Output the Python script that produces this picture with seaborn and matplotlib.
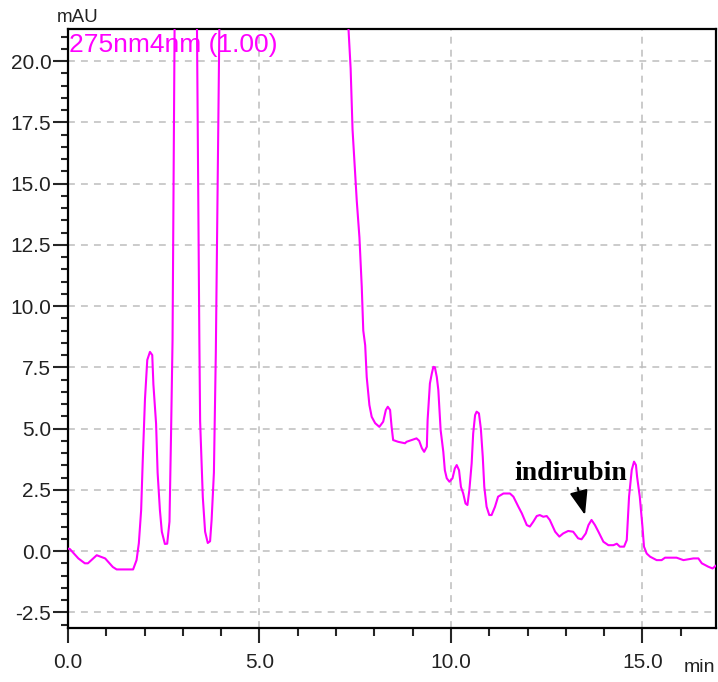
import matplotlib
matplotlib.use("Agg")
import matplotlib.pyplot as plt
from matplotlib.ticker import MultipleLocator, FormatStrFormatter
import seaborn as sns
import pandas as pd

# Chromatogram trace: retention time (min) and absorbance (mAU) at 275 nm.
# Peak tops that run past the top of the plot are estimates; they are clipped by the axes.
time_min = [
    0.00, 0.05, 0.27, 0.44, 0.52, 0.75, 0.97, 1.17, 1.27, 1.70,
    1.79, 1.85, 1.91, 1.95, 2.01, 2.07, 2.14, 2.20, 2.23, 2.30,
    2.34, 2.40, 2.45, 2.53, 2.59, 2.65, 2.69, 2.73, 2.79, 3.05,
    3.36, 3.43, 3.45, 3.52, 3.58, 3.65, 3.71, 3.75, 3.81, 3.86,
    3.96, 4.50, 5.50, 6.60, 7.30, 7.38, 7.43, 7.49, 7.54, 7.61,
    7.67, 7.71, 7.76, 7.80, 7.87, 7.93, 8.02, 8.13, 8.23, 8.30,
    8.35, 8.41, 8.45, 8.49, 8.62, 8.80, 8.84, 9.10, 9.17, 9.24,
    9.30, 9.37, 9.39, 9.45, 9.50, 9.54, 9.58, 9.63, 9.67, 9.73,
    9.80, 9.84, 9.89, 9.96, 10.04, 10.10, 10.15, 10.21, 10.26, 10.32,
    10.38, 10.43, 10.48, 10.54, 10.58, 10.63, 10.67, 10.73, 10.78, 10.83,
    10.87, 10.93, 11.00, 11.06, 11.15, 11.23, 11.37, 11.54, 11.63, 11.76,
    11.85, 11.98, 12.06, 12.15, 12.24, 12.32, 12.41, 12.50, 12.58, 12.72,
    12.83, 12.93, 13.06, 13.19, 13.32, 13.41, 13.52, 13.59, 13.67, 13.76,
    13.85, 13.98, 14.11, 14.24, 14.33, 14.41, 14.52, 14.59, 14.65, 14.72,
    14.78, 14.83, 14.86, 14.93, 15.00, 15.04, 15.11, 15.20, 15.37, 15.50,
    15.59, 15.89, 16.07, 16.33, 16.46, 16.55, 16.72, 16.83, 16.94,
]
absorbance_mau = [
    0.10, 0.08, -0.30, -0.50, -0.50, -0.17, -0.30, -0.65, -0.75, -0.75,
    -0.37, 0.32, 1.67, 3.60, 6.20, 7.80, 8.13, 8.00, 6.80, 5.20,
    3.20, 1.67, 0.79, 0.29, 0.30, 1.20, 4.70, 8.60, 23.0, 45.0,
    23.0, 8.60, 5.30, 2.20, 0.79, 0.33, 0.40, 1.27, 3.20, 8.10,
    22.5, 90.0, 110.0, 70.0, 22.0, 19.70, 17.20, 15.60, 14.30, 12.80,
    10.80, 9.00, 8.40, 7.10, 5.96, 5.48, 5.22, 5.07, 5.28, 5.76,
    5.89, 5.76, 5.07, 4.53, 4.46, 4.40, 4.46, 4.60, 4.50, 4.20,
    4.05, 4.26, 5.35, 6.84, 7.25, 7.52, 7.50, 7.10, 6.57, 4.94,
    4.05, 3.30, 2.97, 2.83, 2.97, 3.37, 3.51, 3.30, 2.62, 2.35,
    1.94, 1.88, 2.49, 3.58, 4.80, 5.55, 5.69, 5.62, 5.00, 3.85,
    2.62, 1.81, 1.47, 1.47, 1.81, 2.22, 2.35, 2.35, 2.22, 1.81,
    1.54, 1.06, 1.00, 1.20, 1.43, 1.47, 1.40, 1.43, 1.27, 0.79,
    0.59, 0.72, 0.82, 0.79, 0.52, 0.48, 0.72, 1.06, 1.27, 1.06,
    0.79, 0.38, 0.24, 0.24, 0.30, 0.18, 0.18, 0.45, 2.22, 3.31,
    3.65, 3.51, 3.03, 2.22, 0.99, 0.18, -0.10, -0.23, -0.37, -0.37,
    -0.27, -0.27, -0.37, -0.30, -0.30, -0.50, -0.64, -0.71, -0.57,
]

channel_label = "275nm4nm (1.00)"
peak_name = "indirubin"
# arrow from below the label down to the indirubin peak
arrow_tail = (13.31, 2.58)
arrow_tip = (13.50, 1.47)
label_pos = (13.12, 2.90)

x_range = (0.0, 16.92)
y_range = (-3.14, 21.31)

sns.set_style("white")
plt.rcParams["font.family"] = ["Liberation Sans", "DejaVu Sans"]
plt.rcParams["axes.unicode_minus"] = False

fig = plt.figure(figsize=(7.18, 6.82), dpi=100)
ax = fig.add_axes([0.0947, 0.0792, 0.9025, 0.8783])

trace = pd.DataFrame({"min": time_min, "mAU": absorbance_mau})
sns.lineplot(data=trace, x="min", y="mAU", ax=ax, color="#ff00ff",
             linewidth=1.5, sort=False, estimator=None, zorder=3)

ax.set_xlim(*x_range)
ax.set_ylim(*y_range)
ax.set_xlabel("")
ax.set_ylabel("")

ax.xaxis.set_major_locator(MultipleLocator(5.0))
ax.xaxis.set_minor_locator(MultipleLocator(1.0))
ax.yaxis.set_major_locator(MultipleLocator(2.5))
ax.yaxis.set_minor_locator(MultipleLocator(0.5))
ax.xaxis.set_major_formatter(FormatStrFormatter("%.1f"))
ax.yaxis.set_major_formatter(FormatStrFormatter("%.1f"))

ax.set_axisbelow(True)
ax.grid(True, which="major", color="#bdbdbd", linestyle=(0, (4.5, 4)),
        linewidth=1.1)

for side in ["left", "right", "top", "bottom"]:
    ax.spines[side].set_visible(True)
    ax.spines[side].set_color("black")
    ax.spines[side].set_linewidth(1.6)

ax.tick_params(axis="y", which="major", direction="out", length=11, width=1.5,
               pad=1, labelsize=15, labelcolor="#222222", left=True)
ax.tick_params(axis="y", which="minor", direction="out", length=5, width=1.5,
               left=True)
ax.tick_params(axis="x", which="major", direction="out", length=11, width=1.5,
               pad=7, labelsize=15, labelcolor="#222222", bottom=True)
ax.tick_params(axis="x", which="minor", direction="out", length=6, width=1.5,
               bottom=True)

ax.text(0.002, 0.993, channel_label, transform=ax.transAxes, ha="left",
        va="top", fontsize=19, color="#ff00ff", zorder=4)

ax.text(label_pos[0], label_pos[1], peak_name, ha="center", va="baseline",
        fontsize=20, fontweight="bold", color="black",
        family=["Liberation Serif", "DejaVu Serif"], zorder=5)
ax.annotate("", xy=arrow_tip, xytext=arrow_tail,
            arrowprops=dict(arrowstyle="-|>,head_length=0.75,head_width=0.28",
                            mutation_scale=20, color="black", lw=1.5,
                            shrinkA=0, shrinkB=0), zorder=5)

fig.text(78 / 718, 1 - 18 / 682, "mAU", ha="center", va="center",
         fontsize=13.5, color="#222222")
fig.text(699 / 718, 1 - 672 / 682, "min", ha="center", va="baseline",
         fontsize=14, color="#222222")

fig.savefig("out.png", dpi=100)
